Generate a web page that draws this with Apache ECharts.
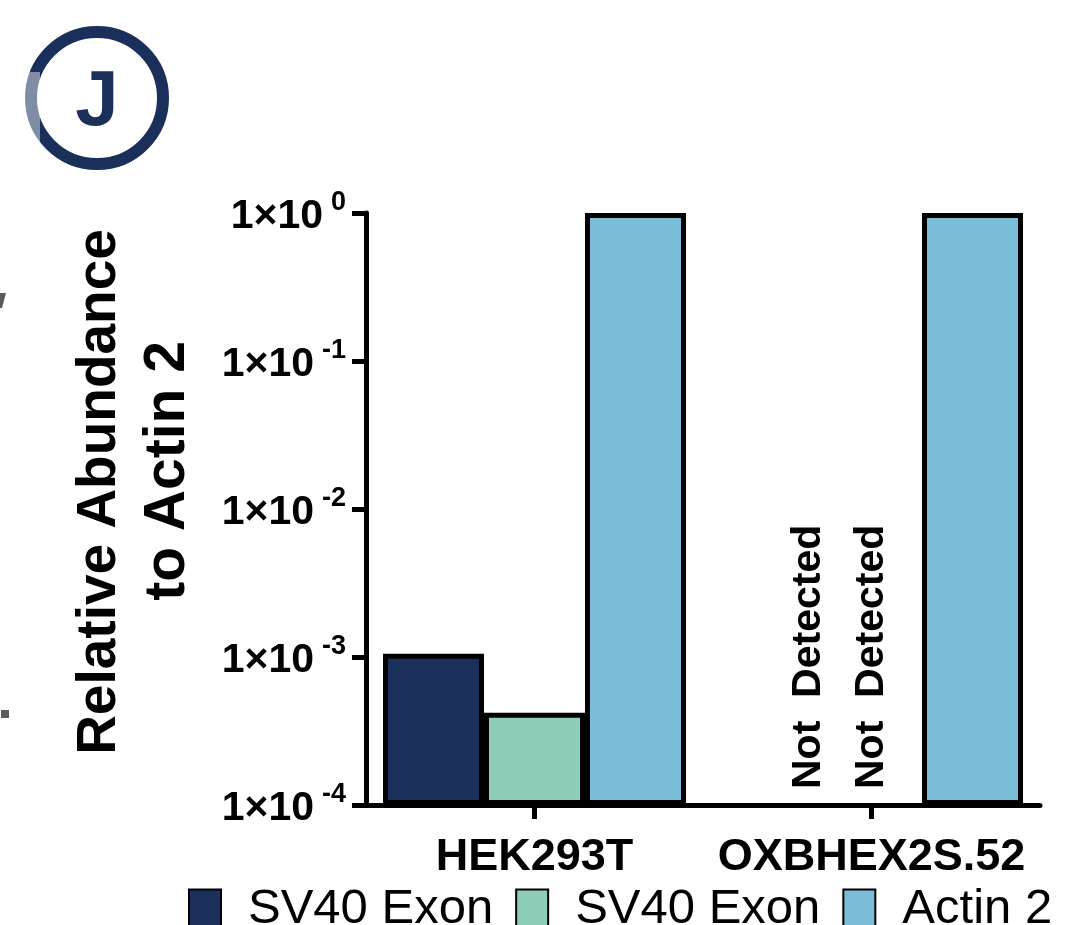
<!DOCTYPE html>
<html>
<head>
<meta charset="utf-8">
<script src="https://cdn.jsdelivr.net/npm/echarts@6/dist/echarts.min.js"></script>
<style>
  html, body { margin: 0; padding: 0; background: #fff; }
  #chart { width: 1070px; height: 925px; }
</style>
</head>
<body>
<div id="chart"></div>
<script>
// Cell lines on the x axis
const categories = ['HEK293T', 'OXBHEX2S.52'];
// Relative abundance to Actin 2 (null = not detected)
const sv40ExonA = [1.05e-3, null];
const sv40ExonB = [4.2e-4, null];
const actin2 = [1, 1];
// Legend captions for the three series
const seriesNames = ['SV40 Exon A', 'SV40 Exon B', 'Actin 2'];
const legendLabels = ['SV40 Exon', 'SV40 Exon', 'Actin 2'];
const notDetectedText = 'Not  Detected';
// Log axis range (decades)
const yMin = 1e-4;
const yMax = 1;

const FONT = '"Liberation Sans", Arial, Helvetica, sans-serif';
const NAVY = '#1b2f5b';
const colors = [NAVY, '#8ecdb8', '#7bbcd7'];
const seriesData = [sv40ExonA, sv40ExonB, actin2];

const chart = echarts.init(document.getElementById('chart'), null, { renderer: 'canvas' });

const legendMap = {};
seriesNames.forEach((n, i) => { legendMap[n] = legendLabels[i]; });

const option = {
  backgroundColor: '#fff',
  animation: false,
  textStyle: { fontFamily: FONT },
  grid: { left: 366, top: 213, width: 674, height: 592, containLabel: false, outerBoundsMode: 'none' },
  legend: {
    data: seriesNames,
    left: 183,
    top: 880,
    icon: 'rect',
    itemWidth: 32,
    itemHeight: 40,
    itemGap: 22,
    selectedMode: false,
    formatter: name => legendMap[name],
    textStyle: { fontFamily: FONT, fontSize: 49, color: '#000', padding: [0, 0, 0, 22] }
  },
  xAxis: {
    type: 'category',
    data: categories,
    axisLine: { show: true, lineStyle: { color: '#000', width: 5 } },
    axisTick: { show: true, alignWithLabel: true, length: 14, lineStyle: { color: '#000', width: 5 } },
    axisLabel: { color: '#000', fontFamily: FONT, fontWeight: 'bold', fontSize: 45, margin: 30, interval: 0 },
    splitLine: { show: false }
  },
  yAxis: {
    type: 'log',
    logBase: 10,
    min: yMin,
    max: yMax,
    startValue: yMin,
    axisLine: { show: true, lineStyle: { color: '#000', width: 5 } },
    axisTick: { show: true, length: 14, lineStyle: { color: '#000', width: 5 } },
    splitLine: { show: false },
    axisLabel: {
      margin: 20,
      formatter: v => '{b|1×10}{s|' + Math.round(Math.log10(v)) + '}',
      rich: {
        b: { fontFamily: FONT, fontWeight: 'bold', fontSize: 41, color: '#000', padding: [8, 0, 0, 0] },
        s: { fontFamily: FONT, fontWeight: 'bold', fontSize: 27, color: '#000', padding: [0, 0, 20, 8] }
      }
    },
    name: '{a|Relative Abundance}\n{b|to Actin 2}',
    nameLocation: 'middle',
    nameRotate: 90,
    nameGap: 164,
    nameTextStyle: {
      color: '#000',
      padding: [0, 0, 0, 34],
      rich: {
        a: { fontFamily: FONT, fontWeight: 'bold', fontSize: 55, lineHeight: 68, color: '#000' },
        b: { fontFamily: FONT, fontWeight: 'bold', fontSize: 57, lineHeight: 68, color: '#000', padding: [0, 0, 0, 42] }
      }
    }
  },
  series: seriesData.map((d, i) => ({
    name: seriesNames[i],
    type: 'bar',
    data: d,
    barWidth: 101,
    barGap: '0%',
    itemStyle: { color: colors[i], borderColor: '#000', borderWidth: 5 }
  })),
  graphic: [
    // panel badge
    { type: 'circle', shape: { cx: 97, cy: 98, r: 66 }, style: { fill: 'none', stroke: NAVY, lineWidth: 12 }, z: 10 },
    { type: 'rect', shape: { x: 20, y: 72, width: 20, height: 71 }, style: { fill: 'rgba(255,255,255,0.45)' }, z: 11 },
    { type: 'text', x: 97, y: 103, style: { text: 'J', font: 'bold 78px ' + FONT, fill: NAVY, align: 'center', verticalAlign: 'middle' }, z: 10 },
    // fragments of the neighbouring panel
    { type: 'polygon', shape: { points: [[0, 293], [6, 293], [2, 308], [0, 308]] }, style: { fill: '#5a5a5a' } },
    { type: 'rect', shape: { x: 1, y: 710, width: 8, height: 8 }, style: { fill: '#5a5a5a' } }
  ]
};

chart.setOption(option);

// "Not Detected" captions sit in the empty bar slots, anchored at the axis floor
const slotShift = [-63, 0];
const ndGraphics = [];
seriesData.forEach((d, si) => {
  d.forEach((v, ci) => {
    if (v === null && slotShift[si] !== undefined) {
      const p = chart.convertToPixel({ xAxisIndex: 0, yAxisIndex: 0 }, [categories[ci], yMin]);
      ndGraphics.push({
        type: 'text',
        x: p[0] + slotShift[si],
        y: p[1] - 16,
        rotation: Math.PI / 2,
        style: { text: notDetectedText, font: 'bold 41px ' + FONT, fill: '#000', align: 'left', verticalAlign: 'middle' },
        z: 10
      });
    }
  });
});
chart.setOption({ graphic: option.graphic.concat(ndGraphics) });
</script>
</body>
</html>
